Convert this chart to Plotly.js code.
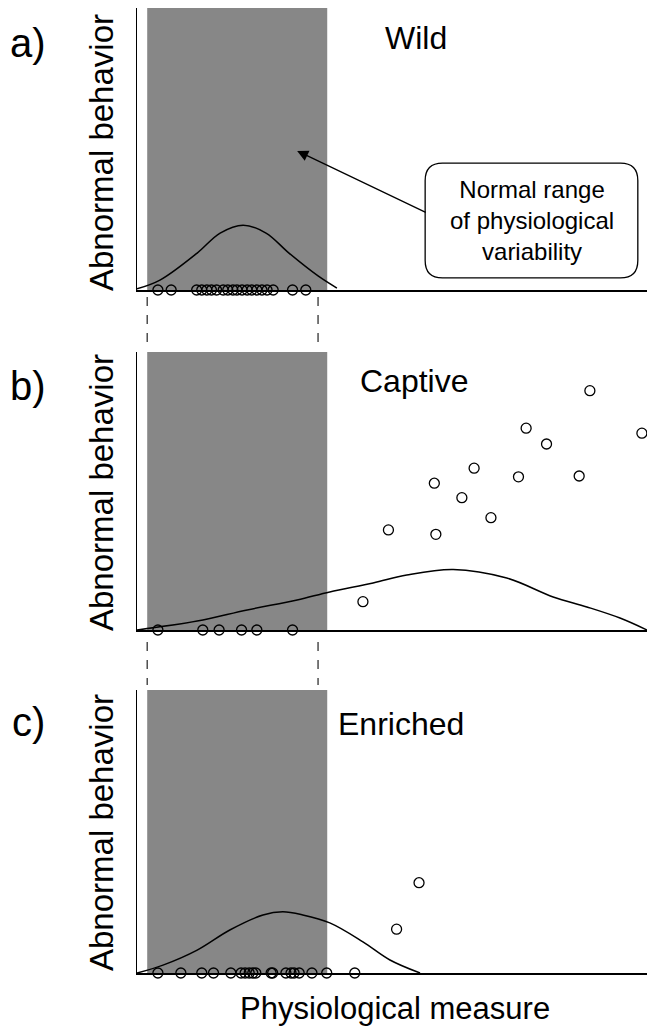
<!DOCTYPE html>
<html>
<head>
<meta charset="utf-8">
<script src="https://cdn.plot.ly/plotly-3.0.1.min.js"></script>
<style>html,body{margin:0;padding:0;background:#fff;}#chart{width:647px;height:1028px;}</style>
</head>
<body>
<div id="chart"></div>
<script>
// ---- Data (physiological measure on x, abnormal behavior on y; arbitrary 0-10 units) ----
const panelLabels = ["a)", "b)", "c)"];
const panelTitles = ["Wild", "Captive", "Enriched"];
const yAxisLabel = "Abnormal behavior";
const xAxisLabel = "Physiological measure";
const boxText = "Normal range<br>of physiological<br>variability";

// normal range (gray band) limits
const normalRange = [0.2, 3.73];
// dashed guide limits
const guideRange = [0.2, 3.55];

// a) Wild
const wildX = [0.41, 0.67, 1.17, 1.27, 1.37, 1.46, 1.56, 1.69, 1.78, 1.88, 1.96, 2.06, 2.16, 2.25, 2.35, 2.45, 2.55, 2.67, 3.05, 3.31];
const wildY = [0, 0, 0, 0, 0, 0, 0, 0, 0, 0, 0, 0, 0, 0, 0, 0, 0, 0, 0, 0];
const wildCurveX = [0, 0.45, 1.18, 1.63, 2.08, 2.53, 2.98, 3.55, 3.92];
const wildCurveY = [0.04, 0.35, 1.31, 2.02, 2.30, 2.02, 1.31, 0.50, 0.07];

// b) Captive
const captiveX = [0.41, 1.29, 1.61, 2.05, 2.35, 3.05, 8.88, 7.63, 8.03, 9.90, 6.61, 5.83, 7.48, 8.67, 6.37, 6.94, 4.93, 5.86, 4.43];
const captiveY = [0, 0, 0, 0, 0, 0, 8.61, 7.26, 6.69, 7.08, 5.82, 5.28, 5.51, 5.54, 4.76, 4.04, 3.60, 3.44, 1.02];
const captiveCurveX = [0, 1.18, 2.16, 3.14, 3.78, 4.63, 5.29, 6.2, 7.25, 8.16, 8.82, 9.47, 10];
const captiveCurveY = [0, 0.32, 0.72, 1.08, 1.37, 1.69, 1.98, 2.18, 1.87, 1.19, 0.83, 0.43, 0];

// c) Enriched
const enrichedX = [0.41, 0.86, 1.27, 1.50, 1.84, 2.04, 2.12, 2.20, 2.27, 2.33, 2.63, 2.66, 2.92, 3.02, 3.08, 3.18, 3.43, 3.72, 4.27, 5.53, 5.09];
const enrichedY = [0, 0, 0, 0, 0, 0, 0, 0, 0, 0, 0, 0, 0, 0, 0, 0, 0, 0, 0, 3.19, 1.55];
const enrichedCurveX = [0, 0.51, 1.18, 1.82, 2.47, 2.86, 3.25, 3.78, 4.43, 4.96, 5.55];
const enrichedCurveY = [0, 0.28, 0.81, 1.52, 2.05, 2.16, 2.05, 1.77, 1.10, 0.46, 0];

// ---- Layout helpers ----
const FONT = "Liberation Sans, Arial, Helvetica, sans-serif";
const H = 1028;
const pY = px => 1 - px / H;
const domains = [[pY(290), pY(8)], [pY(630), pY(352)], [pY(973), pY(690)]];
const xDomain = [137 / 647, 1];

const series = [
  {px: wildX, py: wildY, cx: wildCurveX, cy: wildCurveY},
  {px: captiveX, py: captiveY, cx: captiveCurveX, cy: captiveCurveY},
  {px: enrichedX, py: enrichedY, cx: enrichedCurveX, cy: enrichedCurveY}
];

const traces = [];
const layout = {
  width: 647, height: 1028,
  margin: {l: 0, r: 0, t: 0, b: 0},
  paper_bgcolor: "#fff", plot_bgcolor: "rgba(0,0,0,0)",
  showlegend: false,
  font: {family: FONT, color: "#000"},
  shapes: [], annotations: []
};

series.forEach((s, i) => {
  const n = i === 0 ? "" : String(i + 1);
  const xa = "x" + n, ya = "y" + n;
  traces.push({
    x: s.cx, y: s.cy, xaxis: xa, yaxis: ya, type: "scatter", mode: "lines",
    line: {color: "#000", width: 1.5, shape: "spline", smoothing: 1}, cliponaxis: false, hoverinfo: "skip"
  });
  traces.push({
    x: s.px, y: s.py, xaxis: xa, yaxis: ya, type: "scatter", mode: "markers",
    marker: {symbol: "circle-open", size: 10, color: "#000", line: {width: 1.3, color: "#000"}},
    cliponaxis: false, hoverinfo: "skip"
  });
  layout["xaxis" + n] = {
    domain: xDomain, range: [0, 10], anchor: ya, showline: true, linecolor: "#000", linewidth: 1.5,
    showgrid: false, zeroline: false, showticklabels: false, ticks: "", fixedrange: true
  };
  layout["yaxis" + n] = {
    domain: domains[i], range: [0, 10], anchor: xa, showline: true, linecolor: "#000", linewidth: 1.5,
    showgrid: false, zeroline: false, showticklabels: false, ticks: "", fixedrange: true
  };
  // gray normal range band
  layout.shapes.push({
    type: "rect", xref: xa, yref: ya, x0: normalRange[0], x1: normalRange[1], y0: 0, y1: 10,
    fillcolor: "#878787", line: {width: 0}, layer: "below"
  });
  // panel letter
  layout.annotations.push({
    xref: "paper", yref: "paper", x: 28 / 647, y: pY([43, 386, 722][i]),
    text: panelLabels[i], showarrow: false, font: {size: 40, family: FONT}, xanchor: "center", yanchor: "middle"
  });
  // y axis label
  layout.annotations.push({
    xref: "paper", yref: "paper", x: 101 / 647, y: pY([153, 493, 833][i]),
    text: yAxisLabel, textangle: -90, showarrow: false, font: {size: 33, family: FONT},
    xanchor: "center", yanchor: "middle"
  });
  // panel title
  layout.annotations.push({
    xref: xa, yref: ya, x: [5.47, 5.45, 5.18][i], y: [8.95, 8.95, 8.8][i],
    text: panelTitles[i], showarrow: false, font: {size: 32, family: FONT}, xanchor: "center", yanchor: "middle"
  });
});

// dashed guides between panels
[[pY(297), pY(342)], [pY(642), pY(685)]].forEach(g => {
  guideRange.forEach(gx => {
    layout.shapes.push({
      type: "line", xref: "x", yref: "paper", x0: gx, x1: gx, y0: g[0], y1: g[1],
      line: {color: "#333", width: 1.3, dash: "dash"}
    });
  });
});

// rounded callout box in panel a
(function () {
  const x0 = 5.65, x1 = 9.82, y0 = 0.43, y1 = 4.50, rx = 0.34, ry = 0.62;
  const p = `M ${x0 + rx},${y0} L ${x1 - rx},${y0} Q ${x1},${y0} ${x1},${y0 + ry} L ${x1},${y1 - ry} Q ${x1},${y1} ${x1 - rx},${y1} ` +
            `L ${x0 + rx},${y1} Q ${x0},${y1} ${x0},${y1 - ry} L ${x0},${y0 + ry} Q ${x0},${y0} ${x0 + rx},${y0} Z`;
  layout.shapes.push({type: "path", xref: "x", yref: "y", path: p, line: {color: "#000", width: 1.3}, fillcolor: "#fff"});
})();
layout.annotations.push({
  xref: "x", yref: "y", x: 7.75, y: 2.48, text: boxText, showarrow: false,
  font: {size: 24, family: FONT}, align: "center", xanchor: "center", yanchor: "middle"
});
// arrow pointing into normal range
layout.annotations.push({
  xref: "x", yref: "y", x: 3.14, y: 4.93, axref: "x", ayref: "y", ax: 5.69, ay: 2.73,
  text: "", showarrow: true, arrowhead: 2, arrowsize: 1.7, arrowwidth: 1.3, arrowcolor: "#000"
});
// x axis label
layout.annotations.push({
  xref: "paper", yref: "paper", x: 395 / 647, y: pY(1008), text: xAxisLabel, showarrow: false,
  font: {size: 31, family: FONT}, xanchor: "center", yanchor: "middle"
});

Plotly.newPlot("chart", traces, layout, {staticPlot: true, displayModeBar: false});
</script>
</body>
</html>
